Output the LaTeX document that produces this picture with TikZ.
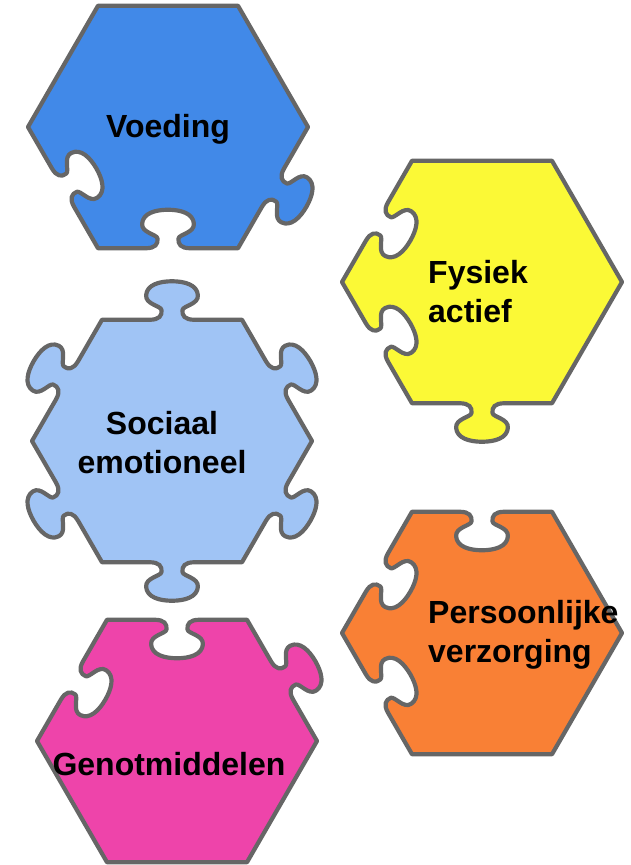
\documentclass[tikz,border=0pt]{standalone}
\usepackage{fontspec}
\setmainfont{Liberation Sans}
\usepackage{tikz}

\definecolor{voedingblue}{HTML}{4189E8}
\definecolor{fysiekyellow}{HTML}{FBF936}
\definecolor{sociaalblue}{HTML}{A0C4F5}
\definecolor{genotpink}{HTML}{EE44AA}
\definecolor{verzorgingorange}{HTML}{F98035}
\definecolor{rimgray}{HTML}{666666}

% one side of a piece, from (0,0) to (1,0)
\newcommand\flatedge{-- (1,0)}
\newcommand\knobedge{-- (0.34,0) .. controls (0.41,0) and (0.43,0.03) .. (0.425,0.07)
  .. controls (0.42,0.10) and (0.31,0.11) .. (0.315,0.175)
  .. controls (0.32,0.25) and (0.41,0.275) .. (0.5,0.275)
  .. controls (0.59,0.275) and (0.68,0.25) .. (0.685,0.175)
  .. controls (0.69,0.11) and (0.58,0.10) .. (0.575,0.07)
  .. controls (0.57,0.03) and (0.59,0) .. (0.66,0) -- (1,0)}
\newcommand\tabedge{{[yscale=-1] \knobedge}}
\newcommand\holeedge{\knobedge}

\begin{document}
\begin{tikzpicture}[x=1pt, y=1pt,
    piece/.style={draw=rimgray, line width=4.2pt, line join=round},
    lbl/.style={font=\fontsize{32}{39}\selectfont\bfseries, inner sep=0pt}]
  \useasboundingbox (0,0) rectangle (631,-865);

  \draw[piece, fill=voedingblue, shift={(168,-127)}, scale=140] (0:1)
    \foreach \k/\e in {0/\flatedge,1/\flatedge,2/\flatedge,3/\holeedge,4/\holeedge,5/\tabedge}
    { {[shift={(60*\k:1)}, rotate=60*\k+120] \e} } -- cycle;
  \node[lbl, anchor=base] (voeding) at (168,-137) {Voeding};

  \draw[piece, fill=fysiekyellow, shift={(482,-282)}, scale=140] (0:1)
    \foreach \k/\e in {0/\flatedge,1/\flatedge,2/\holeedge,3/\holeedge,4/\tabedge,5/\flatedge}
    { {[shift={(60*\k:1)}, rotate=60*\k+120] \e} } -- cycle;
  \node[lbl, align=left, anchor=west] (fysiek) at (428,-291.5) {Fysiek\\actief};

  \draw[piece, fill=sociaalblue, shift={(172,-441)}, scale=140] (0:1)
    \foreach \k in {0,...,5}
    { {[shift={(60*\k:1)}, rotate=60*\k+120] \tabedge} } -- cycle;
  \node[lbl, align=center] (sociaal) at (162,-442.5) {Sociaal\\emotioneel};

  \draw[piece, fill=genotpink, shift={(177,-741)}, scale=140] (0:1)
    \foreach \k/\e in {0/\tabedge,1/\holeedge,2/\holeedge,3/\flatedge,4/\flatedge,5/\flatedge}
    { {[shift={(60*\k:1)}, rotate=60*\k+120] \e} } -- cycle;
  \node[lbl, anchor=base] (genot) at (169,-775) {Genotmiddelen};

  \draw[piece, fill=verzorgingorange, shift={(482,-633)}, scale=140] (0:1)
    \foreach \k/\e in {0/\flatedge,1/\holeedge,2/\holeedge,3/\holeedge,4/\flatedge,5/\flatedge}
    { {[shift={(60*\k:1)}, rotate=60*\k+120] \e} } -- cycle;
  \node[lbl, align=left, anchor=west] (verzorging) at (428,-635) {Persoonlijke\\verzorging};
\end{tikzpicture}
\end{document}
